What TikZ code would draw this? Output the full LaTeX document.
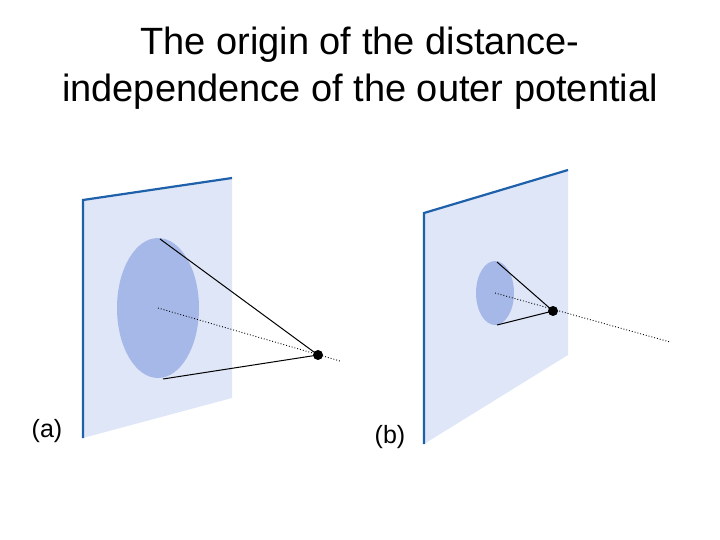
\documentclass[tikz,border=0pt]{standalone}
\usepackage{fontspec}
\setmainfont{Liberation Sans}
\definecolor{planec}{RGB}{222,230,248}
\definecolor{diskc}{RGB}{166,184,232}
\definecolor{edgec}{RGB}{30,96,170}
\begin{document}
\begin{tikzpicture}[x=1pt,y=-1pt,
  plane/.style={fill=planec},
  edge/.style={draw=edgec,line width=2.2pt},
  disk/.style={fill=diskc},
  ray/.style={black,line width=1pt},
  axis/.style={black,dotted,line width=0.9pt},
  lab/.style={font=\fontsize{25}{28}\selectfont,anchor=center}]
\useasboundingbox (0,0) rectangle (720,540);
\node[font=\fontsize{38}{47}\selectfont,align=center] (title) at (360,68) {The origin of the distance-\\independence of the outer potential};
% panel a
\fill[plane] (83,200) -- (232,178) -- (232,398) -- (83,438) -- cycle;
\draw[edge] (83,438) -- (83,200) -- (232,178);
\fill[disk] (158,308) ellipse (41 and 70);
\coordinate (ca) at (158,308);
\node[circle,fill=black,inner sep=0pt,minimum size=10pt] (pa) at (318,355) {};
\coordinate (ta) at (160,239);
\coordinate (ba) at (163,379);
\coordinate (ea) at (340,361);
\draw[ray] (ta) -- (pa.center) -- (ba);
\draw[axis] (ca) -- (ea);
\node[lab] (la) at (47,431) {(a)};
% panel b
\fill[plane] (424,213) -- (568,170) -- (568,355) -- (424,444) -- cycle;
\draw[edge] (424,444) -- (424,213) -- (568,170);
\fill[disk] (495,293) ellipse (19 and 32);
\coordinate (cb) at (495,293);
\node[circle,fill=black,inner sep=0pt,minimum size=10pt] (pb) at (553,311) {};
\coordinate (tb) at (497,262);
\coordinate (bb) at (497,325);
\coordinate (eb) at (670,342);
\draw[ray] (tb) -- (pb.center) -- (bb);
\draw[axis] (cb) -- (eb);
\node[lab] (lb) at (390,437) {(b)};
\end{tikzpicture}
\end{document}
